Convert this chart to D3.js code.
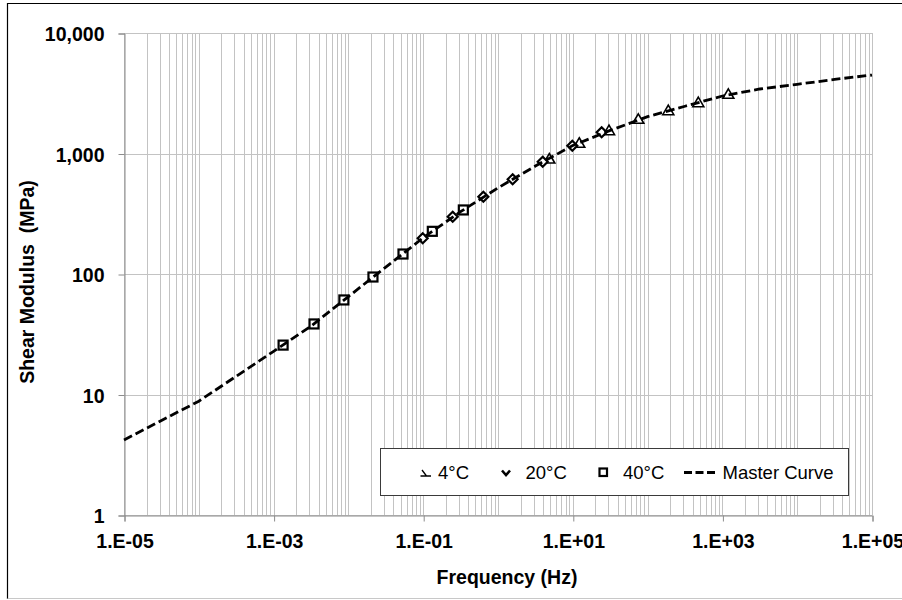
<!DOCTYPE html>
<html>
<head>
<meta charset="utf-8">
<script src="https://cdn.jsdelivr.net/npm/d3@7"></script>
<style>
  html, body { margin: 0; padding: 0; background: #fff; }
  svg { display: block; }
  text { font-family: "Liberation Sans", Arial, sans-serif; }
</style>
</head>
<body>
<svg id="chart" width="902" height="600"></svg>
<script>
// ---- Data ----
const freq4C  = [4.85, 12.2, 30.5, 75.1, 189, 476, 1200];
const mod4C   = [900, 1216, 1546, 1922, 2266, 2641, 3100];
const freq20C = [0.0985, 0.248, 0.637, 1.57, 3.96, 9.85, 24.3];
const mod20C  = [198, 299, 438, 611, 855, 1161, 1500];
const freq40C = [0.00134, 0.00347, 0.0087, 0.0213, 0.0537, 0.1324, 0.344];
const mod40C  = [25.7, 38.5, 60.9, 94.4, 146.5, 226, 340];
const freqMaster = [1e-5, 1e-4, 1e-3, 3.16e-3, 1e-2, 3.16e-2, 0.1, 0.316, 1, 3.16, 10, 31.6, 100, 316, 1000, 3160, 1e4, 3.16e4, 1e5];
const modMaster  = [4.2, 8.8, 22.8, 36.9, 65, 114, 200, 329, 518, 787, 1165, 1555, 2023, 2466, 3000, 3430, 3750, 4120, 4480];

const xTickValues = [1e-5, 1e-3, 1e-1, 1e1, 1e3, 1e5];
const xTickLabels = ["1.E-05", "1.E-03", "1.E-01", "1.E+01", "1.E+03", "1.E+05"];
const yTickValues = [1, 10, 100, 1000, 10000];
const yTickLabels = ["1", "10", "100", "1,000", "10,000"];
const legendLabels = ["4°C", "20°C", "40°C", "Master Curve"];
const xTitle = "Frequency (Hz)";
const yTitle = "Shear Modulus  (MPa)";

// ---- Layout ----
const svg = d3.select("#chart");
const L = 124, R = 872, T = 33, B = 515;
const x = d3.scaleLog().domain([1e-5, 1e5]).range([L, R]);
const y = d3.scaleLog().domain([1, 10000]).range([B, T]);
const gridColor = "#c3c3c3";
const axisColor = "#8c8c8c";

// outer chart border
svg.append("line").attr("x1", 7.5).attr("x2", 7.5).attr("y1", 3).attr("y2", 599).attr("stroke", "#000").attr("stroke-width", 1.2);
svg.append("line").attr("x1", 7.5).attr("x2", 902).attr("y1", 3.5).attr("y2", 3.5).attr("stroke", "#000").attr("stroke-width", 1.2);
svg.append("line").attr("x1", 7.5).attr("x2", 902).attr("y1", 598.5).attr("y2", 598.5).attr("stroke", "#c8c8c8").attr("stroke-width", 1);

// gridlines: vertical at every 1..9 x decade
const xMinor = [];
for (let e = -5; e < 5; e++) for (let m = 1; m <= 9; m++) xMinor.push(m * Math.pow(10, e));
xMinor.push(1e5);
svg.append("g").selectAll("line").data(xMinor).join("line")
  .attr("x1", d => Math.round(x(d)) + 0.5).attr("x2", d => Math.round(x(d)) + 0.5)
  .attr("y1", T).attr("y2", B)
  .attr("stroke", gridColor).attr("stroke-width", 1);

// horizontal gridlines at decades
svg.append("g").selectAll("line").data(yTickValues).join("line")
  .attr("x1", L).attr("x2", R)
  .attr("y1", d => Math.round(y(d)) + 0.5).attr("y2", d => Math.round(y(d)) + 0.5)
  .attr("stroke", gridColor).attr("stroke-width", 1);

// axes
const xAxis = d3.axisBottom(x).tickValues(xTickValues).tickSize(6).tickFormat((d, i) => xTickLabels[i]);
const yAxis = d3.axisLeft(y).tickValues(yTickValues).tickSize(6).tickFormat((d, i) => yTickLabels[i]);

const gx = svg.append("g").attr("transform", `translate(0.5,${B + 0.5})`).call(xAxis);
const gy = svg.append("g").attr("transform", `translate(${L + 0.5},0.5)`).call(yAxis);
[gx, gy].forEach(g => {
  g.select(".domain").attr("stroke", axisColor);
  g.selectAll(".tick line").attr("stroke", axisColor);
  g.selectAll(".tick text")
    .attr("fill", "#000").attr("font-size", "19.5px").attr("font-weight", "bold")
    .attr("font-family", "'Liberation Sans', Arial, sans-serif");
});
gx.selectAll(".tick text").attr("dy", null).attr("y", 32);
gy.selectAll(".tick text").attr("x", -20).attr("dy", "0.36em");

// axis titles
svg.append("text").attr("x", (L + R) / 2 + 9).attr("y", 584)
  .attr("text-anchor", "middle").attr("font-size", "19.5px").attr("font-weight", "bold")
  .text(xTitle);
svg.append("text").attr("transform", `translate(34,${(T + B) / 2 + 8}) rotate(-90)`)
  .attr("text-anchor", "middle").attr("font-size", "19.5px").attr("font-weight", "bold")
  .style("white-space", "pre").attr("xml:space", "preserve")
  .text(yTitle);

// markers
const triPath = "M0,-5.5 L5.5,4 L-5.5,4 Z";
const diaPath = "M0,-5 L5,0 L0,5 L-5,0 Z";

const s40 = freq40C.map((f, i) => ({ f, v: mod40C[i] }));
const s20 = freq20C.map((f, i) => ({ f, v: mod20C[i] }));
const s4  = freq4C.map((f, i) => ({ f, v: mod4C[i] }));

svg.append("g").selectAll("path").data(s4).join("path")
  .attr("d", triPath)
  .attr("transform", d => `translate(${x(d.f)},${y(d.v)})`)
  .attr("fill", "#fff").attr("stroke", "#000").attr("stroke-width", 1.6);

svg.append("g").selectAll("path").data(s20).join("path")
  .attr("d", diaPath)
  .attr("transform", d => `translate(${x(d.f)},${y(d.v)})`)
  .attr("fill", "#fff").attr("stroke", "#000").attr("stroke-width", 2.2);

svg.append("g").selectAll("rect").data(s40).join("rect")
  .attr("x", d => x(d.f) - 4.5).attr("y", d => y(d.v) - 4.5)
  .attr("width", 9).attr("height", 9)
  .attr("fill", "#fff").attr("stroke", "#000").attr("stroke-width", 2.2);

// master curve
const master = freqMaster.map((f, i) => ({ f, v: modMaster[i] }));
const line = d3.line().x(d => x(d.f)).y(d => y(d.v));
svg.append("path").datum(master)
  .attr("d", line)
  .attr("fill", "none").attr("stroke", "#000").attr("stroke-width", 2.8)
  .attr("stroke-dasharray", "9,4");

// legend
const lg = svg.append("g");
lg.append("rect").attr("x", 380.5).attr("y", 448.5).attr("width", 468).attr("height", 47)
  .attr("fill", "#fff").attr("stroke", "#3a3a3a").attr("stroke-width", 1);
const ly = 472.5;
// triangle (partially rendered, as in reference)
lg.append("path").attr("d", `M${420.5},${ly + 3.5} L${431},${ly + 3.5} M${422},${ly - 2.5} L${426.5},${ly + 3.5}`)
  .attr("fill", "none").attr("stroke", "#000").attr("stroke-width", 1.3);
// diamond chevron
lg.append("path").attr("d", `M${502},${ly - 2} L${506},${ly + 2.5} L${510},${ly - 2}`)
  .attr("fill", "none").attr("stroke", "#000").attr("stroke-width", 2.6);
// square
lg.append("rect").attr("x", 599.5).attr("y", ly - 4).attr("width", 7.5).attr("height", 7.5)
  .attr("fill", "#fff").attr("stroke", "#000").attr("stroke-width", 2.2);
// dashed line
lg.append("line").attr("x1", 684).attr("x2", 716).attr("y1", ly).attr("y2", ly)
  .attr("stroke", "#000").attr("stroke-width", 2.8).attr("stroke-dasharray", "8,3.5");
const lx = [438, 525.5, 623, 722.5];
lg.selectAll("text.lt").data(legendLabels).join("text")
  .attr("class", "lt")
  .attr("x", (d, i) => lx[i]).attr("y", ly + 6.5)
  .attr("font-size", "18.5px").attr("fill", "#000")
  .text(d => d);
</script>
</body>
</html>
